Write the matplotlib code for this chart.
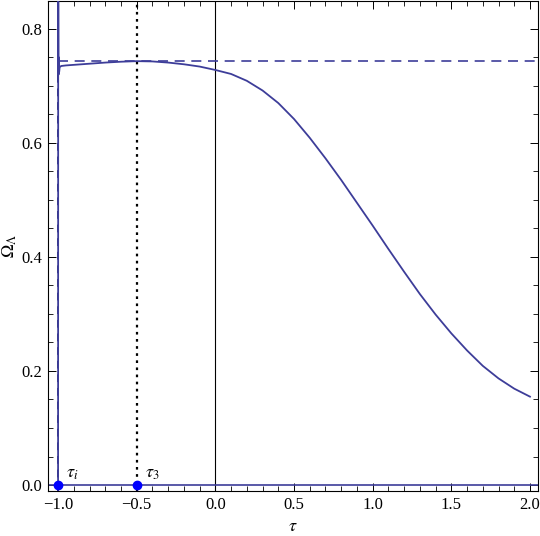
import numpy as np
import matplotlib.pyplot as plt
from matplotlib.ticker import MultipleLocator

plt.rcParams['font.family'] = ['Liberation Serif', 'DejaVu Serif']
plt.rcParams['mathtext.fontset'] = 'stix'

# Omega_Lambda(tau)
tau = [-1.0, -0.999, -0.997, -0.995, -0.993, -0.99, -0.98, -0.95, -0.9, -0.8,
       -0.7, -0.6, -0.5, -0.4, -0.3, -0.2, -0.1, 0.0, 0.1, 0.2, 0.3, 0.4,
       0.5, 0.6, 0.7, 0.8, 0.9, 1.0, 1.1, 1.2, 1.3, 1.4, 1.5, 1.6, 1.7,
       1.8, 1.9, 2.0]
omega = [0.0, 0.95, 0.72, 0.75, 0.725, 0.733, 0.735, 0.736, 0.737, 0.739,
         0.741, 0.7425, 0.7435, 0.743, 0.741, 0.738, 0.734, 0.728, 0.721, 0.709,
         0.692, 0.670, 0.642, 0.609, 0.573, 0.535, 0.495, 0.455, 0.414, 0.374,
         0.335, 0.299, 0.266, 0.236, 0.209, 0.187, 0.169, 0.155]

omega_max = 0.744
tau_i = -1.0
tau_3 = -0.5
marks_tau = [tau_i, tau_3]
marks_omega = [0.0, 0.0]
marks_text = [r'$\tau_i$', r'$\tau_3$']

curve_color = '#3d3d99'

fig = plt.figure(figsize=(5.4, 5.36), dpi=100)
ax = fig.add_axes([48/540, 45/536, 490/540, 490/536])

ax.axvline(0, color='black', lw=0.8, zorder=1)
ax.axhline(0, color=curve_color, lw=1.2, zorder=2)
ax.axvline(tau_i, color='#2b2b70', lw=1.4, ls=(0, (4, 3)), zorder=2)
ax.axvline(tau_3, color='black', lw=1.6, ls=(0, (1.2, 2)), zorder=2)
ax.plot([tau_i, 2.1], [omega_max, omega_max], color=curve_color, lw=1.2,
        ls=(0, (6, 4)), zorder=2)
ax.plot(tau, omega, color=curve_color, lw=1.3, zorder=3, solid_joinstyle='round')

ax.plot(marks_tau, marks_omega, 'o', color='#0000ff', ms=6, zorder=4, clip_on=False)
for t, v, s in zip(marks_tau, marks_omega, marks_text):
    ax.text(t + 0.05, v + 0.006, s, fontsize=13, ha='left', va='bottom')

ax.set_xlim(-1.064, 2.051)
ax.set_ylim(-0.0105, 0.849)

ax.xaxis.set_major_locator(MultipleLocator(0.5))
ax.xaxis.set_minor_locator(MultipleLocator(0.1))
ax.yaxis.set_major_locator(MultipleLocator(0.2))
ax.yaxis.set_minor_locator(MultipleLocator(0.05))
ax.tick_params(which='both', direction='in', top=True, right=True, labelsize=12)
ax.tick_params(which='major', length=6, width=0.7, pad=4)
ax.tick_params(which='minor', length=3.5, width=0.6)
ax.xaxis.set_major_formatter(plt.FuncFormatter(lambda v, p: f'{v:.1f}'.replace('-', '\u2212')))
ax.yaxis.set_major_formatter(plt.FuncFormatter(lambda v, p: f'{v:.1f}'))

ax.set_xlabel(r'$\tau$', fontsize=13, labelpad=4)
ax.set_ylabel(r'$\Omega_\Lambda$', fontsize=13)
ax.yaxis.set_label_coords(-0.06, 0.5)

for sp in ax.spines.values():
    sp.set_linewidth(0.8)

fig.savefig('out.png', dpi=100)
